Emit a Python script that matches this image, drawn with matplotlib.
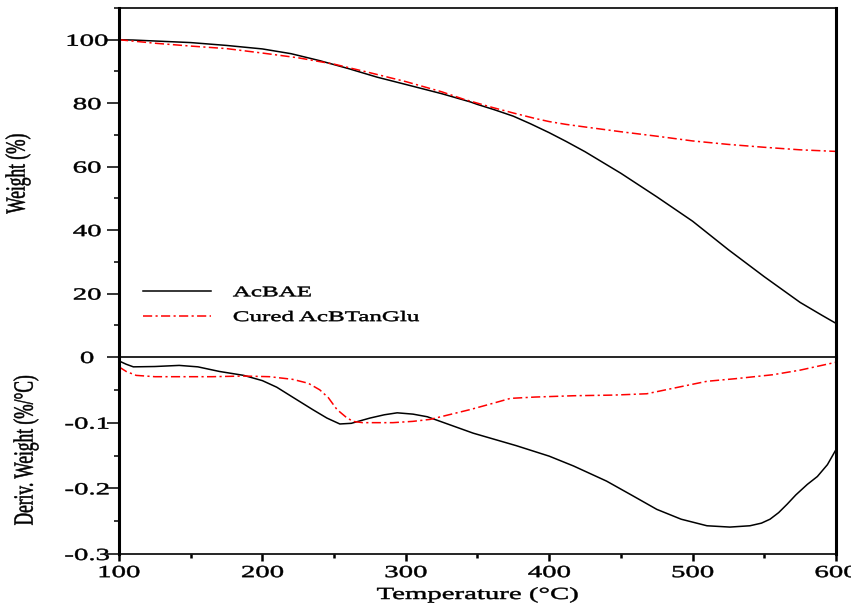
import matplotlib
matplotlib.use("Agg")
import matplotlib.pyplot as plt
from matplotlib.patheffects import AbstractPathEffect
from matplotlib.transforms import Affine2D

# ---------------- data ----------------
temp_w_acbae = [100, 110, 125, 150, 175, 200, 220, 240, 260, 280, 300, 325, 345, 350, 362, 375,
                387, 400, 412, 425, 450, 475, 500, 525, 550, 575, 590, 600]
weight_acbae = [100.0, 99.9, 99.6, 99.1, 98.2, 97.1, 95.6, 93.4, 90.9, 88.2, 85.9, 83.0, 80.4,
                79.6, 77.9, 75.9, 73.5, 70.7, 67.9, 64.7, 57.9, 50.5, 42.8, 33.8, 25.3, 17.2,
                13.2, 10.6]

temp_w_cured = [100, 125, 150, 175, 200, 225, 250, 275, 300, 325, 340, 350, 360, 375, 390, 400,
                412, 425, 450, 475, 500, 525, 550, 575, 600]
weight_cured = [100.0, 98.9, 98.0, 97.2, 95.8, 94.3, 92.3, 89.6, 86.8, 83.6, 81.3, 80.0, 78.7,
                76.9, 75.2, 74.2, 73.3, 72.5, 71.0, 69.6, 68.1, 67.0, 66.1, 65.3, 64.8]

temp_d_acbae = [100, 105, 110, 125, 142, 155, 170, 187, 200, 210, 221, 235, 245, 254, 262, 275,
                285, 294, 305, 315, 324, 347, 377, 400, 417, 440, 458, 475, 492, 510, 526, 540,
                548, 554, 560, 566, 572, 580, 587, 594, 600]
deriv_acbae = [-0.006, -0.011, -0.015, -0.0145, -0.0128, -0.015, -0.022, -0.028, -0.036, -0.046,
               -0.061, -0.080, -0.093, -0.102, -0.101, -0.093, -0.088, -0.085, -0.087, -0.091,
               -0.098, -0.116, -0.135, -0.151, -0.166, -0.189, -0.211, -0.232, -0.247, -0.257,
               -0.259, -0.257, -0.253, -0.247, -0.237, -0.224, -0.210, -0.194, -0.182, -0.164,
               -0.141]

temp_d_cured = [100, 105, 112, 125, 140, 165, 187, 205, 221, 232, 240, 246, 252, 258, 263, 270,
                291, 305, 317, 330, 345, 360, 373, 390, 417, 445, 468, 490, 510, 530, 556, 575, 600]
deriv_cured = [-0.015, -0.022, -0.028, -0.030, -0.030, -0.030, -0.029, -0.030, -0.034, -0.040,
               -0.050, -0.062, -0.080, -0.091, -0.098, -0.100, -0.100, -0.098, -0.095, -0.088,
               -0.080, -0.071, -0.063, -0.061, -0.059, -0.058, -0.056, -0.046, -0.037, -0.033,
               -0.027, -0.020, -0.008]

series_labels = ["AcBAE", "Cured AcBTanGlu"]
x_ticks = [100, 200, 300, 400, 500, 600]
x_minor = [150, 250, 350, 450, 550]
top_yticks = [20, 40, 60, 80, 100]
top_yminor = [10, 30, 50, 70, 90, 110]
bot_yticks = [-0.3, -0.2, -0.1, 0]
bot_ytick_labels = ["-0.3", "-0.2", "-0.1", "0"]
bot_yminor = [-0.25, -0.15, -0.05]


# ---------------- text stretch effect (reference text is horizontally stretched) -------------
class Stretch(AbstractPathEffect):
    def __init__(self, sx=1.0, sy=1.0, anchor="center", ay=0.0, stroke=0.35):
        super().__init__()
        self.sx, self.sy, self.anchor, self.ay, self.stroke = sx, sy, anchor, ay, stroke

    def draw_path(self, renderer, gc, tpath, affine, rgbFace=None):
        ext = tpath.get_extents()
        if self.anchor == "left":
            x0 = 0.0
        elif self.anchor == "right":
            x0 = ext.x1
        else:
            x0 = 0.5 * (ext.x0 + ext.x1)
        t = (Affine2D().translate(-x0, -self.ay).scale(self.sx, self.sy)
             .translate(x0, self.ay) + affine)
        gc0 = renderer.new_gc()
        gc0.copy_properties(gc)
        if rgbFace is not None:
            gc0.set_foreground(rgbFace)
        gc0.set_linewidth(self.stroke)
        renderer.draw_path(gc0, tpath, t, rgbFace)
        gc0.restore()


SX = 1.7
plt.rcParams["font.family"] = ["Liberation Serif", "DejaVu Serif"]

W, H = 851, 608
fig = plt.figure(figsize=(W / 100, H / 100), dpi=100)
L, R = 119, 836
ax1 = fig.add_axes([L / W, 1 - 357 / H, (R - L) / W, (357 - 8) / H])
ax2 = fig.add_axes([L / W, 1 - 554 / H, (R - L) / W, (554 - 357) / H], sharex=ax1)

red_ls = (0, (6, 2.2, 1.4, 2.2))
ax1.plot(temp_w_acbae, weight_acbae, color="black", lw=1.1, label=series_labels[0])
ax1.plot(temp_w_cured, weight_cured, color="#ff0000", lw=1.1, ls=red_ls, label=series_labels[1])
ax2.plot(temp_d_acbae, deriv_acbae, color="black", lw=1.1)
ax2.plot(temp_d_cured, deriv_cured, color="#ff0000", lw=1.1, ls=red_ls)

ax1.set_xlim(100, 600)
ax1.set_ylim(0, 110)
ax2.set_ylim(-0.3, 0)

for ax in (ax1, ax2):
    ax.spines["left"].set_linewidth(2.2)
    ax.spines["right"].set_linewidth(2.2)
    ax.spines["top"].set_linewidth(1.2)
    ax.spines["bottom"].set_linewidth(1.2)
ax1.spines["bottom"].set_visible(False)

# ticks
ax1.set_yticks(top_yticks)
ax1.set_yticks(top_yminor, minor=True)
ax2.set_yticks(bot_yticks)
ax2.set_yticklabels(bot_ytick_labels)
ax2.set_yticks(bot_yminor, minor=True)
ax2.set_xticks(x_ticks)
ax2.set_xticks(x_minor, minor=True)

ax1.tick_params(axis="x", which="both", bottom=False, labelbottom=False)
for ax in (ax1, ax2):
    ax.tick_params(axis="y", which="major", direction="out", length=8.6, width=1.1,
                   pad=14.4, labelsize=12.2)
    ax.tick_params(axis="y", which="minor", direction="out", length=3.6, width=1.1)
    for lab in ax.get_yticklabels():
        lab.set_horizontalalignment("center")
        lab.set_path_effects([Stretch(sx=SX, anchor="center")])
ax2.tick_params(axis="x", which="major", direction="out", length=5, width=1.8, pad=3,
                labelsize=12.2)
ax2.tick_params(axis="x", which="minor", direction="out", length=3, width=1.8)
for lab in ax2.get_xticklabels():
    lab.set_path_effects([Stretch(sx=SX, anchor="center")])

# labels
xl = ax2.set_xlabel("Temperature (°C)", fontsize=12.2, va="top")
ax2.xaxis.set_label_coords(0.5, (554 - 587) / 197)
xl.set_path_effects([Stretch(sx=SX, anchor="center")])

yl1 = ax1.set_ylabel("Weight (%)", fontsize=12.5, va="center")
ax1.yaxis.set_label_coords((18 - L) / (R - L), (357 - 173.5) / 349)
yl1.set_path_effects([Stretch(sy=1.6, ay=25)])

yl2 = ax2.set_ylabel("Deriv. Weight (%/°C)", fontsize=12.5, va="center")
ax2.yaxis.set_label_coords((26 - L) / (R - L), (554 - 450) / 197)
yl2.set_path_effects([Stretch(sy=1.6, ay=25)])

# legend
leg = ax1.legend(loc="upper left", bbox_to_anchor=((143 - L) / (R - L), (357 - 286) / 349),
                 frameon=False, fontsize=10.6, borderpad=0, borderaxespad=0,
                 handlelength=4.6, handletextpad=1.5, labelspacing=0.78)
for t in leg.get_texts():
    t.set_path_effects([Stretch(sx=SX, anchor="left")])

fig.savefig("out.png", dpi=100, facecolor="white")
